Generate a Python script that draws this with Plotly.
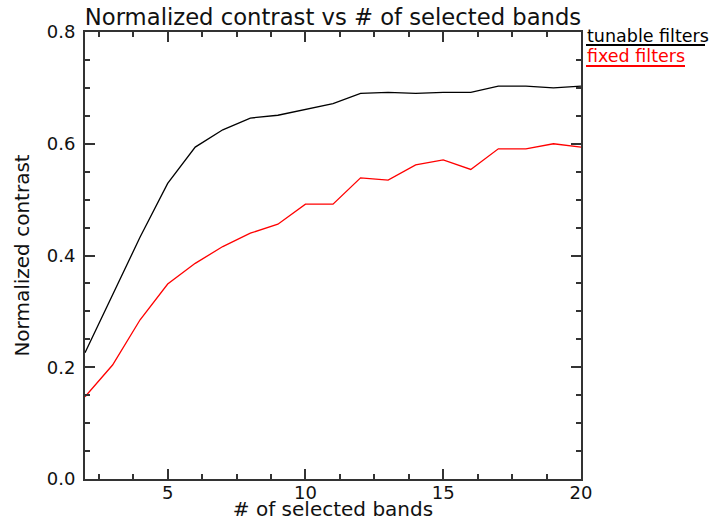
import plotly.graph_objects as go

bands = list(range(2, 21))
tunable = [0.226, 0.33, 0.433, 0.529, 0.594, 0.625, 0.646, 0.651, 0.661, 0.672,
           0.690, 0.692, 0.690, 0.692, 0.692, 0.703, 0.703, 0.700, 0.703]
fixed = [0.147, 0.204, 0.285, 0.349, 0.386, 0.416, 0.440, 0.456, 0.492, 0.492,
         0.539, 0.535, 0.562, 0.571, 0.554, 0.591, 0.591, 0.600, 0.594]
series_names = ["tunable filters", "fixed filters"]
series_colors = ["#000000", "#ff0000"]

FONT = "DejaVu Sans"
AX = "#333333"

fig = go.Figure()
for name, vals, col in zip(series_names, [tunable, fixed], series_colors):
    fig.add_trace(go.Scatter(x=bands, y=vals, mode="lines", name=name,
                             line=dict(color=col, width=1.3), showlegend=False))

fig.update_layout(
    width=710, height=521,
    margin=dict(l=85, r=129, t=32, b=42),
    paper_bgcolor="white", plot_bgcolor="white",
    font=dict(family=FONT, color="#111111", size=18),
    title=dict(text="Normalized contrast vs # of selected bands",
               x=(85 + 581) / 2 / 710, xanchor="center", xref="container",
               y=1 - 17 / 521, yanchor="middle", yref="container",
               font=dict(size=22.7, family=FONT, color="#111111")),
)

fig.update_xaxes(
    range=[2, 20], tick0=0, dtick=5, ticks="inside", ticklen=10, tickwidth=1.5,
    tickcolor=AX, showline=True, linecolor=AX, linewidth=2, mirror="ticks",
    showgrid=False, zeroline=False, automargin=False,
    minor=dict(tick0=0, dtick=1.25, ticks="inside", ticklen=5, tickwidth=1.5, tickcolor=AX),
    tickfont=dict(size=18, family=FONT), ticklabelstandoff=-4,
    title=dict(text="# of selected bands", font=dict(size=20, family=FONT), standoff=9),
)
fig.update_yaxes(
    range=[0, 0.8], tick0=0, dtick=0.2, tickformat=".1f", ticks="inside", ticklen=10,
    tickwidth=1.5, tickcolor=AX, showline=True, linecolor=AX, linewidth=2, mirror="ticks",
    showgrid=False, zeroline=False, automargin=False,
    minor=dict(tick0=0, dtick=0.05, ticks="inside", ticklen=5, tickwidth=1.5, tickcolor=AX),
    tickfont=dict(size=18, family=FONT), ticklabelstandoff=4,
    title=dict(text="Normalized contrast", font=dict(size=20, family=FONT), standoff=12),
)

# legend-like labels with underline samples to the right of the plot
legend_y = [1.0 - 4 / 447, 1.0 - 24 / 447]
line_y = [1.0 - 13 / 447, 1.0 - 34 / 447]
line_x1 = [1.0 + 124 / 496, 1.0 + 104 / 496]
for name, col, ty, ly, lx1 in zip(series_names, series_colors, legend_y, line_y, line_x1):
    fig.add_annotation(text=name, xref="paper", yref="paper", x=1.0 + 5 / 496, y=ty,
                       xanchor="left", yanchor="middle", showarrow=False,
                       font=dict(size=17.5, family=FONT, color=col), borderpad=0)
    fig.add_shape(type="line", xref="paper", yref="paper", x0=1.0 + 5 / 496, x1=lx1,
                  y0=ly, y1=ly, line=dict(color=col, width=2))

fig.write_html("out.html")
